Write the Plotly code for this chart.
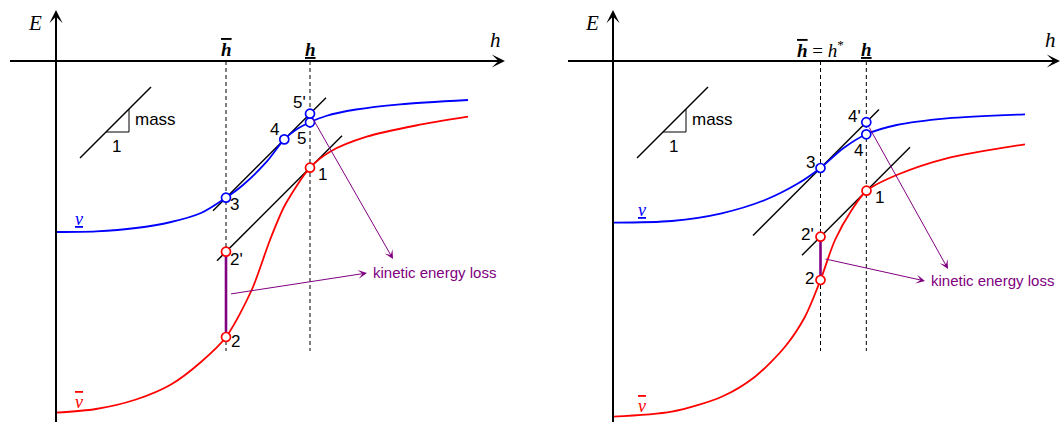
import plotly.graph_objects as go

BLUE, RED, PURPLE, BLACK = "#0000ff", "#ff0000", "#800080", "#000000"
SANS = "Liberation Sans, Arial, sans-serif"
SERIF = "Liberation Serif, Times New Roman, serif"

MASS = 1.0  # slope of every tangent line (and of the little slope glyph)

OVER = '<span style="text-decoration:overline">{}</span>'
UNDER = '<span style="text-decoration:underline">{}</span>'
H_BAR = OVER.format("<b><i>h</i></b>")
H_UNDER = UNDER.format("<b><i>h</i></b>")
NU_LOW = UNDER.format("<i>ν</i>")
NU_HIGH = OVER.format("<i>ν</i>")

# ---------------- left panel ----------------
L_low_h = [0, 40, 80, 115, 145, 170, 187, 210.7, 228.3, 240.7, 254, 270, 300, 344, 412]
L_low_E = [-171, -170.3, -167, -161, -152, -136.7, -124, -100.7, -78.4, -68.3, -61.3, -55, -48.5, -43.3, -39]
L_high_h = [0, 40, 80, 115, 145, 170, 195.7, 214, 229, 254, 274, 310.7, 360, 412]
L_high_E = [-351.7, -348, -338.5, -323.5, -301, -276, -229, -179, -144, -106.7, -90.7, -75.7, -64.5, -55.7]
L_blue_pts = ["3", "4", "5", "5'"]
L_blue_h = [170, 228.3, 254, 254]
L_blue_E = [-136.7, -78.4, -61.3, -52.7]
L_red_pts = ["1", "2", "2'"]
L_red_h = [254, 170, 170]
L_red_E = [-106.7, -276, -190.7]
L_marks_h = [170, 254]
L_marks_text = [H_BAR, H_UNDER]
L_tangent_through = ["3", "1"]
L_tangent_from = [157, 161]
L_tangent_to = [270, 286]
L_loss_pair = ["2'", "2"]
L_gap_start = "5'"
L_arrow_tip_h = [311, 337]
L_arrow_tip_E = [-212, -198]

# ---------------- right panel ----------------
R_low_h = [0, 58.7, 108.7, 152, 185.3, 207.5, 230.3, 253.3, 283.7, 333.7, 412]
R_low_E = [-161.7, -160, -152.3, -139, -122.3, -107, -87.3, -73.3, -64, -57.3, -53.3]
R_high_h = [0, 58.7, 108.7, 142, 172, 192, 207.5, 222, 238.7, 253.5, 283.7, 333.7, 412]
R_high_E = [-355.7, -350.7, -335.7, -315.7, -285.7, -255.7, -219, -179, -149, -129.7, -114, -97.3, -83.3]
R_blue_pts = ["3", "4", "4'"]
R_blue_h = [207.5, 253.3, 253.3]
R_blue_E = [-107, -73.3, -61.2]
R_red_pts = ["1", "2", "2'"]
R_red_h = [253.5, 207.5, 207.5]
R_red_E = [-129.7, -219, -175.7]
R_marks_h = [207.5, 253.3]
R_marks_text = [H_BAR + "<span style='font-weight:normal'> = </span><i>h</i><sup>*</sup>", H_UNDER]
R_tangent_through = ["3", "1"]
R_tangent_from = [140, 189]
R_tangent_to = [266, 297]
R_loss_pair = ["2'", "2"]
R_gap_start = "4'"
R_arrow_tip_h = [312, 335]
R_arrow_tip_E = [-220, -208]

# shared frame of both panels
GUIDE_DEPTH = -290
E_AXIS = [-371, 51]
MASS_GLYPH_H = [24, 95]
MASS_GLYPH_E0 = -97
MASS_STEP_H = [50, 73]
LOSS_TEXT = "kinetic energy loss"

# label placement (pixel shifts from the marked point)
L_shift = {"3": (8, -7), "4": (-10, 10), "5": (-9, -16), "5'": (-11, 11),
           "1": (12, -7), "2": (9, -4), "2'": (10, -8)}
R_shift = {"3": (-10, 6), "4": (-8, -16), "4'": (-12, 6),
           "1": (13, -7), "2": (-11, 2), "2'": (-13, 2)}

fig = go.Figure()
annotations = []


def line(xs, ys, xa, ya, color=BLACK, width=1.5, dash=None, shape="linear"):
    fig.add_trace(go.Scatter(x=xs, y=ys, mode="lines", xaxis=xa, yaxis=ya,
                             line=dict(color=color, width=width, dash=dash, shape=shape,
                                       smoothing=0.8),
                             hoverinfo="skip", showlegend=False))


def arrow(x0, y0, x1, y1, xa, ya, color, width, size):
    annotations.append(dict(x=x1, y=y1, ax=x0, ay=y0, xref=xa, yref=ya, axref=xa, ayref=ya,
                            text=" ", showarrow=True, arrowhead=3, arrowsize=size,
                            arrowwidth=width, arrowcolor=color, standoff=0))


def label(x, y, text, xa, ya, size=17, color=BLACK, family=SANS, dx=0, dy=0, anchor="center"):
    annotations.append(dict(x=x, y=y, xref=xa, yref=ya, text=text, showarrow=False,
                            xanchor=anchor, yanchor="middle", xshift=dx, yshift=dy,
                            font=dict(size=size, color=color, family=family)))


def panel(xa, ya, h_axis, low, high, blue, red, marks, tangents, loss_pair, gap_start,
          tips, shift, nu_pos):
    pts = {}
    for name, h, E in zip(*blue):
        pts[name] = (h, E)
    for name, h, E in zip(*red):
        pts[name] = (h, E)

    # dashed guides from the h axis down
    for h in marks[0]:
        line([h, h], [0, GUIDE_DEPTH], xa, ya, width=1, dash="4px,3px")

    # slope glyph
    line(MASS_GLYPH_H, [MASS_GLYPH_E0, MASS_GLYPH_E0 + MASS * (MASS_GLYPH_H[1] - MASS_GLYPH_H[0])],
         xa, ya, width=1.5)
    e_base = MASS_GLYPH_E0 + MASS * (MASS_STEP_H[0] - MASS_GLYPH_H[0])
    e_top = e_base + MASS * (MASS_STEP_H[1] - MASS_STEP_H[0])
    line([MASS_STEP_H[0], MASS_STEP_H[1], MASS_STEP_H[1]], [e_base, e_base, e_top], xa, ya, width=1)
    label(MASS_STEP_H[1] + 4, (e_base + e_top) / 2 + 1, "mass", xa, ya, anchor="left")
    label((MASS_STEP_H[0] + MASS_STEP_H[1]) / 2 - 1, e_base - 14, "1", xa, ya)

    # tangent lines of slope MASS
    for through, h0, h1 in zip(*tangents):
        hp, Ep = pts[through]
        line([h0, h1], [Ep + MASS * (h0 - hp), Ep + MASS * (h1 - hp)], xa, ya, width=1.5)

    # the two energy curves
    line(low[0], low[1], xa, ya, color=BLUE, width=1.8, shape="spline")
    line(high[0], high[1], xa, ya, color=RED, width=1.8, shape="spline")

    # kinetic-energy-loss segment and pointers
    a, b = pts[loss_pair[0]], pts[loss_pair[1]]
    line([a[0], b[0]], [a[1], b[1]], xa, ya, color=PURPLE, width=2.6)
    mid = (a[0] + 2, (a[1] + b[1]) / 2)
    arrow(mid[0], mid[1], tips[0][0], tips[1][0], xa, ya, PURPLE, 1, 1.5)
    g = pts[gap_start]
    arrow(g[0], g[1], tips[0][1], tips[1][1], xa, ya, PURPLE, 1, 1.5)
    label(tips[0][0] + 4, tips[1][0] + 1, LOSS_TEXT, xa, ya, size=15, color=PURPLE, anchor="left")

    # marked points
    for names, hs, Es, col in [(blue[0], blue[1], blue[2], BLUE), (red[0], red[1], red[2], RED)]:
        fig.add_trace(go.Scatter(x=hs, y=Es, mode="markers", xaxis=xa, yaxis=ya,
                                 marker=dict(symbol="circle", size=9, color="white",
                                             line=dict(color=col, width=1.7)),
                                 hoverinfo="skip", showlegend=False, cliponaxis=False))
        for n, h, E in zip(names, hs, Es):
            dx, dy = shift[n]
            label(h, E, n, xa, ya, dx=dx, dy=dy)

    # coordinate axes
    arrow(h_axis[0], 0, h_axis[1], 0, xa, ya, BLACK, 2, 1.1)
    arrow(0, E_AXIS[0], 0, E_AXIS[1], xa, ya, BLACK, 2, 1.1)
    label(-21, 38, "<i>E</i>", xa, ya, size=21, family=SERIF)
    label(h_axis[1] - 10, 21, "<i>h</i>", xa, ya, size=21, family=SERIF)
    for h, t in zip(*marks):
        label(h, 12, t, xa, ya, size=19, family=SERIF)

    # curve names
    label(nu_pos[0], low[1][0] + 13, NU_LOW, xa, ya, size=18, color=BLUE, family=SERIF)
    label(nu_pos[0], high[1][0] + 11, NU_HIGH, xa, ya, size=18, color=RED, family=SERIF)


panel("x", "y", [-49, 449], (L_low_h, L_low_E), (L_high_h, L_high_E),
      (L_blue_pts, L_blue_h, L_blue_E), (L_red_pts, L_red_h, L_red_E),
      (L_marks_h, L_marks_text), (L_tangent_through, L_tangent_from, L_tangent_to),
      L_loss_pair, L_gap_start, (L_arrow_tip_h, L_arrow_tip_E), L_shift, (23,))

panel("x2", "y2", [-48, 447], (R_low_h, R_low_E), (R_high_h, R_high_E),
      (R_blue_pts, R_blue_h, R_blue_E), (R_red_pts, R_red_h, R_red_E),
      (R_marks_h, R_marks_text), (R_tangent_through, R_tangent_from, R_tangent_to),
      R_loss_pair, R_gap_start, (R_arrow_tip_h, R_arrow_tip_E), R_shift, (29,))

hidden = dict(visible=False, showgrid=False, zeroline=False, fixedrange=True)
fig.update_layout(
    width=1060, height=432,
    margin=dict(l=0, r=0, t=0, b=0),
    paper_bgcolor="white", plot_bgcolor="white",
    showlegend=False,
    xaxis=dict(hidden, domain=[0, 0.5], range=[-56, 474]),
    yaxis=dict(hidden, domain=[0, 1], range=[-371, 61], anchor="x"),
    xaxis2=dict(hidden, domain=[0.5, 1], range=[-83, 447], anchor="y2"),
    yaxis2=dict(hidden, domain=[0, 1], range=[-371, 61], anchor="x2"),
    annotations=annotations,
)

fig.write_html("out.html")
